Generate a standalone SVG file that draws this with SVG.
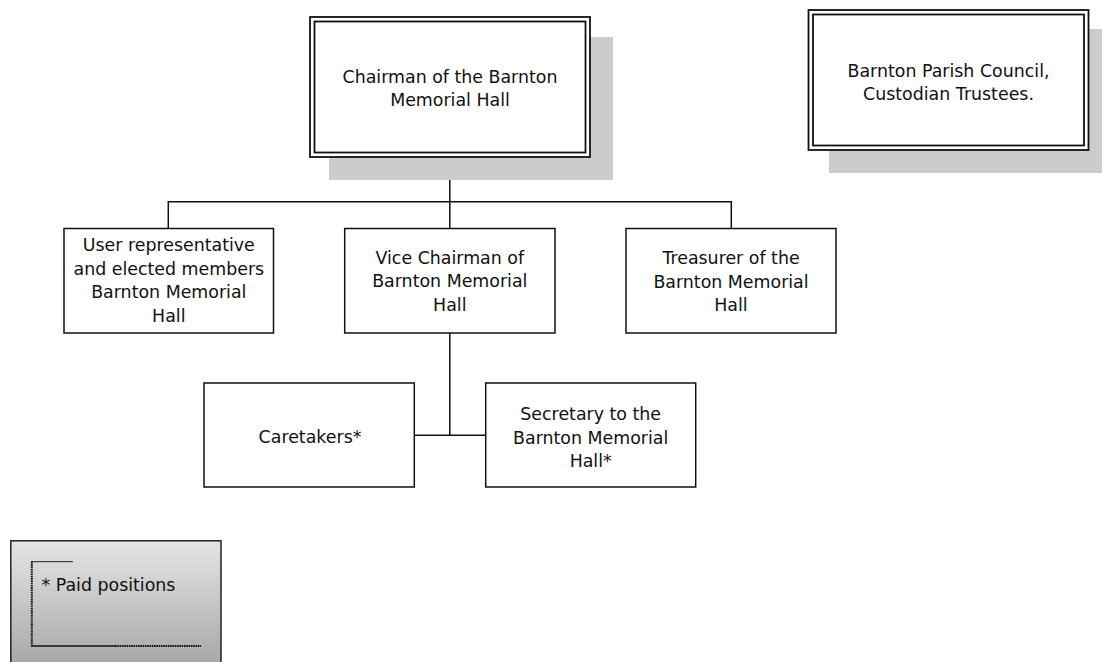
<svg xmlns="http://www.w3.org/2000/svg" width="1102" height="662" viewBox="0 0 1102 662">
<style>
text{font-family:"DejaVu Sans","Verdana",sans-serif;font-size:17.4px;fill:#111;text-anchor:middle}
.box{fill:#fff;stroke:#111;stroke-width:1.5}
.outer{fill:#fff;stroke:#111;stroke-width:1.8}
.inner{fill:none;stroke:#111;stroke-width:1.8}
.shadow{fill:#cccccc}
.conn{fill:none;stroke:#111;stroke-width:1.5}
</style>
<defs>
<linearGradient id="lg" gradientUnits="userSpaceOnUse" x1="0" y1="540" x2="0" y2="662">
<stop offset="0" stop-color="#e6e6e6"/>
<stop offset="1" stop-color="#a9a9a9"/>
</linearGradient>
</defs>
<g id="connectors">
<path class="conn" d="M449.8 157.5 V228.5"/>
<path class="conn" d="M168.3 228.5 V201.7 H731.3 V228.5"/>
<path class="conn" d="M449.8 333 V435.2"/>
<path class="conn" d="M414.3 435.2 H485.7"/>
</g>
<g id="chairman">
<rect class="shadow" x="329" y="37" width="284" height="143"/>
<rect class="outer" x="310" y="17" width="280" height="140"/>
<rect class="inner" x="314.5" y="21.5" width="271" height="131"/>
<text x="450" y="82.5">Chairman of the Barnton</text>
<text x="450" y="105.5">Memorial Hall</text>
</g>
<g id="trustees">
<rect class="shadow" x="829" y="29" width="284" height="144"/>
<rect class="outer" x="808.5" y="10" width="280" height="140"/>
<rect class="inner" x="813" y="14.5" width="271" height="131"/>
<text x="948.5" y="76.5">Barnton Parish Council,</text>
<text x="948.5" y="100">Custodian Trustees.</text>
</g>
<g id="user-reps">
<rect class="box" x="64" y="228.5" width="209.5" height="104.5"/>
<text x="168.8" y="251.3">User representative</text>
<text x="168.8" y="274.8">and elected members</text>
<text x="168.8" y="298.3">Barnton Memorial</text>
<text x="168.8" y="321.8">Hall</text>
</g>
<g id="vice-chairman">
<rect class="box" x="344.7" y="228.5" width="210.3" height="104.5"/>
<text x="449.8" y="263.8">Vice Chairman of</text>
<text x="449.8" y="287.4">Barnton Memorial</text>
<text x="449.8" y="311">Hall</text>
</g>
<g id="treasurer">
<rect class="box" x="626" y="228.5" width="210" height="104.5"/>
<text x="731" y="263.8">Treasurer of the</text>
<text x="731" y="287.6">Barnton Memorial</text>
<text x="731" y="311.2">Hall</text>
</g>
<g id="caretakers">
<rect class="box" x="204" y="383" width="210.3" height="104"/>
<text x="310" y="442.8">Caretakers*</text>
</g>
<g id="secretary">
<rect class="box" x="485.7" y="383" width="210" height="104"/>
<text x="590.7" y="419.5">Secretary to the</text>
<text x="590.7" y="443.5">Barnton Memorial</text>
<text x="590.7" y="467">Hall*</text>
</g>
<g id="legend">
<rect x="10.8" y="540.8" width="210.2" height="130" fill="url(#lg)" stroke="#222" stroke-width="1.5"/>
<path d="M31 561.7 H73" stroke="#222" stroke-width="1" fill="none"/>
<path d="M31.8 562 V646" stroke="#111" stroke-width="2" stroke-dasharray="1.6 0.7" fill="none"/>
<path d="M31 646 H115" stroke="#111" stroke-width="1.5" fill="none"/>
<path d="M115 646 H201" stroke="#111" stroke-width="2" stroke-dasharray="1.6 0.7" fill="none"/>
<text x="41.5" y="591" style="text-anchor:start">* Paid positions</text>
</g>
</svg>
